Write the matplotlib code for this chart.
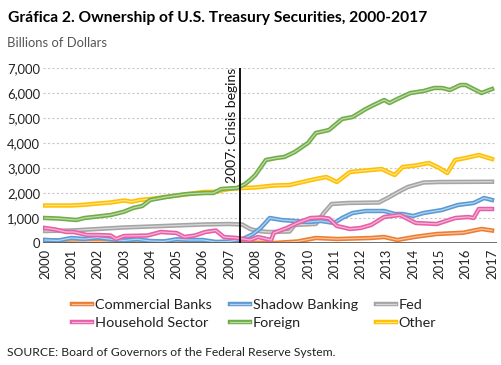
import matplotlib
matplotlib.use("Agg")
import matplotlib.pyplot as plt
import matplotlib.patheffects as pe
from matplotlib.colors import to_rgb

# ---------------- data (billions of dollars) ----------------
other_t = [2000.0, 2001.0, 2001.5, 2002.0, 2002.5, 2003.0, 2003.3, 2003.6, 2004.0, 2004.5, 2005.0,
           2005.5, 2006.0, 2006.5, 2007.0, 2007.5, 2008.0, 2008.7, 2009.3, 2009.8, 2010.3, 2010.7,
           2011.1, 2011.6, 2012.2, 2012.8, 2013.3, 2013.6, 2014.1, 2014.6, 2015.0, 2015.3, 2015.6,
           2016.0, 2016.5, 2017.0]
other_v = [1500, 1500, 1530, 1580, 1620, 1700, 1650, 1720, 1760, 1830, 1900,
           1960, 2040, 2050, 2160, 2200, 2220, 2300, 2320, 2440, 2560, 2640,
           2440, 2840, 2900, 2960, 2720, 3040, 3100, 3200, 3000, 2800, 3320,
           3400, 3520, 3360]

foreign_t = [2000.0, 2000.5, 2001.2, 2001.5, 2002.0, 2002.5, 2003.0, 2003.35, 2003.7, 2004.0, 2004.6,
             2005.0, 2005.4, 2006.1, 2006.4, 2006.7, 2007.3, 2007.6, 2007.8, 2008.0, 2008.4, 2008.8,
             2009.1, 2009.5, 2010.0, 2010.3, 2010.8, 2011.3, 2011.7, 2012.2, 2012.5, 2012.9, 2013.1,
             2013.4, 2013.9, 2014.4, 2014.8, 2015.1, 2015.4, 2015.8, 2016.0, 2016.6, 2017.0]
foreign_v = [1000, 980, 920, 1000, 1060, 1120, 1250, 1400, 1480, 1720, 1840,
             1900, 1960, 2000, 2000, 2160, 2200, 2350, 2520, 2720, 3320, 3400,
             3440, 3640, 4000, 4400, 4520, 4960, 5040, 5360, 5520, 5720, 5600,
             5760, 6000, 6080, 6200, 6200, 6120, 6320, 6320, 6000, 6160]

fed_t = [2000.0, 2001.0, 2002.0, 2003.0, 2004.0, 2005.0, 2006.0, 2007.0, 2007.5, 2007.8, 2008.1,
         2008.5, 2009.3, 2009.5, 2010.3, 2010.6, 2010.9, 2011.5, 2012.7, 2013.1, 2013.5, 2013.8,
         2014.4, 2015.0, 2017.0]
fed_v = [480, 500, 560, 620, 660, 700, 740, 760, 740, 560, 480,
         440, 460, 720, 760, 1200, 1560, 1600, 1620, 1840, 2080, 2240,
         2420, 2440, 2450]

shadow_t = [2000.0, 2000.5, 2001.0, 2001.5, 2002.0, 2002.5, 2003.0, 2003.5, 2004.0, 2004.5, 2005.0,
            2005.5, 2006.0, 2006.5, 2007.0, 2007.5, 2007.9, 2008.2, 2008.55, 2009.0, 2009.5, 2010.0,
            2010.5, 2011.0, 2011.3, 2011.7, 2012.2, 2012.9, 2013.3, 2013.6, 2014.0, 2014.4, 2015.1,
            2015.7, 2016.3, 2016.7, 2017.0]
shadow_v = [120, 100, 200, 160, 220, 150, 100, 150, 80, 60, 150,
            120, 120, 40, 60, 150, 350, 600, 1000, 920, 880, 840,
            880, 800, 1000, 1200, 1280, 1280, 1160, 1160, 1080, 1200, 1320,
            1520, 1600, 1800, 1720]

house_t = [2000.0, 2000.4, 2000.8, 2001.1, 2001.6, 2002.0, 2002.5, 2002.7, 2003.0, 2003.9, 2004.4,
           2005.0, 2005.3, 2005.7, 2006.1, 2006.5, 2006.8, 2007.3, 2007.8, 2008.1, 2008.6, 2008.7,
           2009.2, 2009.6, 2010.1, 2010.5, 2010.8, 2011.1, 2011.6, 2012.0, 2012.4, 2012.9, 2013.5,
           2014.1, 2014.9, 2015.6, 2016.1, 2016.3, 2016.5, 2017.0]
house_v = [600, 540, 440, 440, 320, 320, 300, 160, 280, 300, 440,
           400, 240, 300, 440, 500, 240, 200, 120, 240, 120, 400,
           600, 800, 1000, 1020, 980, 680, 560, 600, 720, 1040, 1120,
           800, 760, 1000, 1040, 1000, 1360, 1360]

banks_t = [2000.0, 2001.0, 2002.0, 2003.0, 2004.0, 2005.0, 2006.0, 2007.0, 2008.0, 2008.7, 2009.6,
           2010.3, 2011.1, 2012.4, 2012.9, 2013.4, 2014.1, 2014.9, 2015.9, 2016.6, 2017.0]
banks_v = [120, 80, 60, 100, 60, 50, 40, 30, 10, 0, 60,
           200, 160, 200, 240, 120, 250, 360, 410, 560, 500]

year_ticks = list(range(2000, 2018))
y_ticks = [0, 1000, 2000, 3000, 4000, 5000, 6000, 7000]
crisis_year = 2007.4

series = [
    ("Commercial Banks", banks_t, banks_v, "#ED7D31"),
    ("Household Sector", house_t, house_v, "#E85FA8"),
    ("Shadow Banking", shadow_t, shadow_v, "#5B9BD5"),
    ("Foreign", foreign_t, foreign_v, "#70AD47"),
    ("Fed", fed_t, fed_v, "#A5A5A5"),
    ("Other", other_t, other_v, "#FFC000"),
]

plt.rcParams['font.family'] = ['Lato', 'DejaVu Sans']

W, H = 501, 365
fig = plt.figure(figsize=(W / 100, H / 100), dpi=100)
fig.patch.set_facecolor("white")
renderer = fig.canvas.get_renderer()


def fit_size(s, target_px, weight="normal", base=10.0):
    t = fig.text(0, 0, s, fontsize=base, fontweight=weight)
    w = t.get_window_extent(renderer).width
    t.remove()
    return base * target_px / w


x0, x1 = 43, 497
y_top, y_bot = 68, 243
ax = fig.add_axes([x0 / W, 1 - y_bot / H, (x1 - x0) / W, (y_bot - y_top) / H])

px_per_year = (492 - 45) / 17.0
xmin = 2000 - (45 - x0) / px_per_year
xmax = 2017 + (x1 - 492) / px_per_year
ax.set_xlim(xmin, xmax)
ax.set_ylim(0, 7000)


def lighten(c, f=0.55):
    r, g, b = to_rgb(c)
    return (r + (1 - r) * f, g + (1 - g) * f, b + (1 - b) * f)


draw_order = ["Fed", "Commercial Banks", "Shadow Banking", "Household Sector", "Other", "Foreign"]
handles = {}
for name in draw_order:
    for (nm, t, v, c) in series:
        if nm == name:
            ln, = ax.plot(t, v, color=lighten(c), lw=0.9, label=nm, zorder=3,
                          solid_joinstyle='round',
                          path_effects=[pe.Stroke(linewidth=3.2, foreground=c), pe.Normal()])
            handles[nm] = ln

# crisis line
ax.axvline(crisis_year, ymin=0, ymax=1, color="black", lw=1.3, zorder=5)
ax.text(crisis_year - 0.06, 7000, "2007: Crisis begins", rotation=90, ha="right", va="top",
        fontsize=fit_size("2007: Crisis begins", 115), color="#111111")

ax.set_yticks(y_ticks)
ax.set_yticklabels([f"{v:,}" for v in y_ticks])
ax.set_xticks(year_ticks)
ax.set_xticklabels([str(y) for y in year_ticks], rotation=90)
for v in y_ticks[1:]:
    ax.axhline(v, color="#C8C8C8", lw=0.8, ls=(0, (2, 2)), zorder=1)
ax.axhline(0, color="#555555", lw=1.2, zorder=4)

for s in ax.spines.values():
    s.set_visible(False)
ax.tick_params(axis="y", length=0, labelsize=fit_size("7,000", 33), colors="#222222", pad=2)
ax.tick_params(axis="x", length=0, labelsize=fit_size("2000", 30), colors="#222222", pad=4)

# legend
leg_fs = fit_size("Commercial Banks", 117)
em = leg_fs * 100 / 72.0
order = ["Commercial Banks", "Household Sector", "Shadow Banking", "Foreign", "Fed", "Other"]
leg = fig.legend([handles[n] for n in order], order, ncol=3, loc="center",
                 bbox_to_anchor=(254 / W, 1 - 314 / H), frameon=False, fontsize=leg_fs,
                 handlelength=20 / em, handletextpad=3 / em, columnspacing=18 / em,
                 labelspacing=0.45)
for t in leg.get_texts():
    t.set_color("#222222")

title = "Gráfica 2. Ownership of U.S. Treasury Securities, 2000-2017"
fig.text(8 / W, 1 - 18 / H, title, fontsize=fit_size(title, 422, "bold"),
         fontweight="bold", ha="left", va="center", color="black")
fig.text(7 / W, 1 - 43 / H, "Billions of Dollars", fontsize=fit_size("Billions of Dollars", 100),
         ha="left", va="center", color="#555555")
src = "SOURCE: Board of Governors of the Federal Reserve System."
fig.text(7 / W, 1 - 352 / H, src, fontsize=fit_size(src, 328),
         ha="left", va="center", color="#222222")

fig.savefig("out.png", dpi=100, facecolor="white")
